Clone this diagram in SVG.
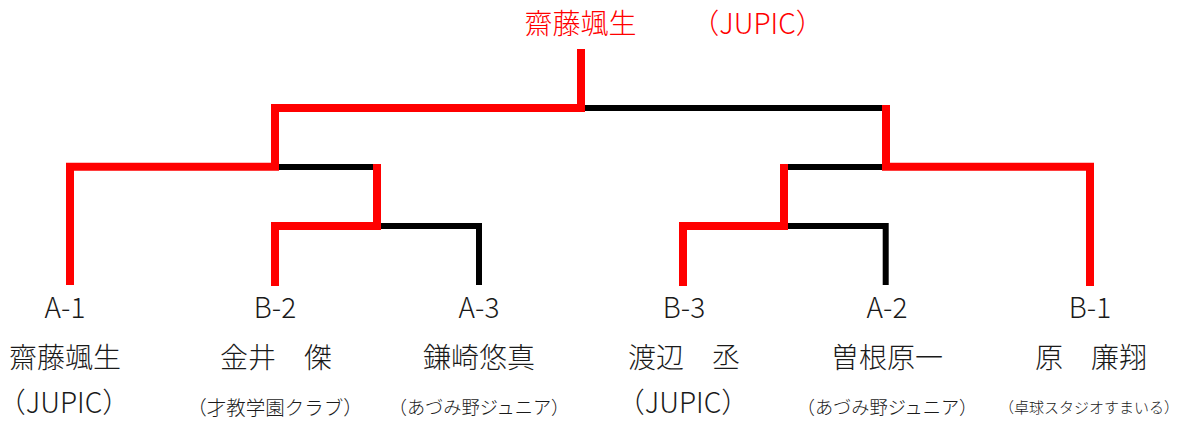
<svg xmlns="http://www.w3.org/2000/svg" width="1180" height="421" viewBox="0 0 1180 421">
<style>
.win{fill:none;stroke:#ff0000;stroke-width:8;stroke-linejoin:miter;stroke-linecap:butt}
.lose{fill:none;stroke:#000;stroke-width:6;stroke-linejoin:miter;stroke-linecap:butt}
text{font-family:"Noto Sans CJK JP","Noto Sans",sans-serif;font-weight:300;text-anchor:middle;fill:#1a1a1a}
.big{font-size:28px}
.s18{font-size:19.5px}
.s17{font-size:18.2px}
.s15{font-size:15px}
.halt{font-feature-settings:"halt"}
.champ{fill:#ff0000}
</style>
<rect width="1180" height="421" fill="#fff"/>
<g id="connectors">
<path class="lose" d="M585 108H883"/>
<path class="lose" d="M279 167H373"/>
<path class="lose" d="M381 226H479V285"/>
<path class="lose" d="M788 167H882"/>
<path class="lose" d="M788 226H885.7V285"/>
<path class="win" d="M581 49V108H275V166.7H70V285"/>
<path class="win" d="M275 286V226H377V164"/>
<path class="win" d="M1090 286V166.7H886V105"/>
<path class="win" d="M683 286V226H784V164"/>
</g>
<g id="champion">
<text class="big champ" x="580.5" y="34">齋藤颯生</text>
<text class="big champ" x="757.5" y="34">（JUPIC）</text>
</g>
<g id="A-1">
<text class="big" x="65" y="318">A-1</text>
<text class="big" x="65" y="368">齋藤颯生</text>
<text class="big halt" x="64" y="413">（JUPIC）</text>
</g>
<g id="B-2">
<text class="big" x="275" y="318">B-2</text>
<text class="big" x="276" y="368">金井　傑</text>
<text class="s18" x="275" y="415">（才教学園クラブ）</text>
</g>
<g id="A-3">
<text class="big" x="479" y="318">A-3</text>
<text class="big" x="479" y="368">鎌崎悠真</text>
<text class="s17" x="479" y="414">（あづみ野ジュニア）</text>
</g>
<g id="B-3">
<text class="big" x="684" y="318">B-3</text>
<text class="big" x="684" y="368">渡辺　丞</text>
<text class="big" x="683" y="413">（JUPIC）</text>
</g>
<g id="A-2">
<text class="big" x="887" y="318">A-2</text>
<text class="big" x="887" y="368">曽根原一</text>
<text class="s17" x="887" y="414">（あづみ野ジュニア）</text>
</g>
<g id="B-1">
<text class="big" x="1090" y="318">B-1</text>
<text class="big" x="1091" y="368">原　廉翔</text>
<text class="s15" x="1089" y="413">（卓球スタジオすまいる）</text>
</g>
</svg>
